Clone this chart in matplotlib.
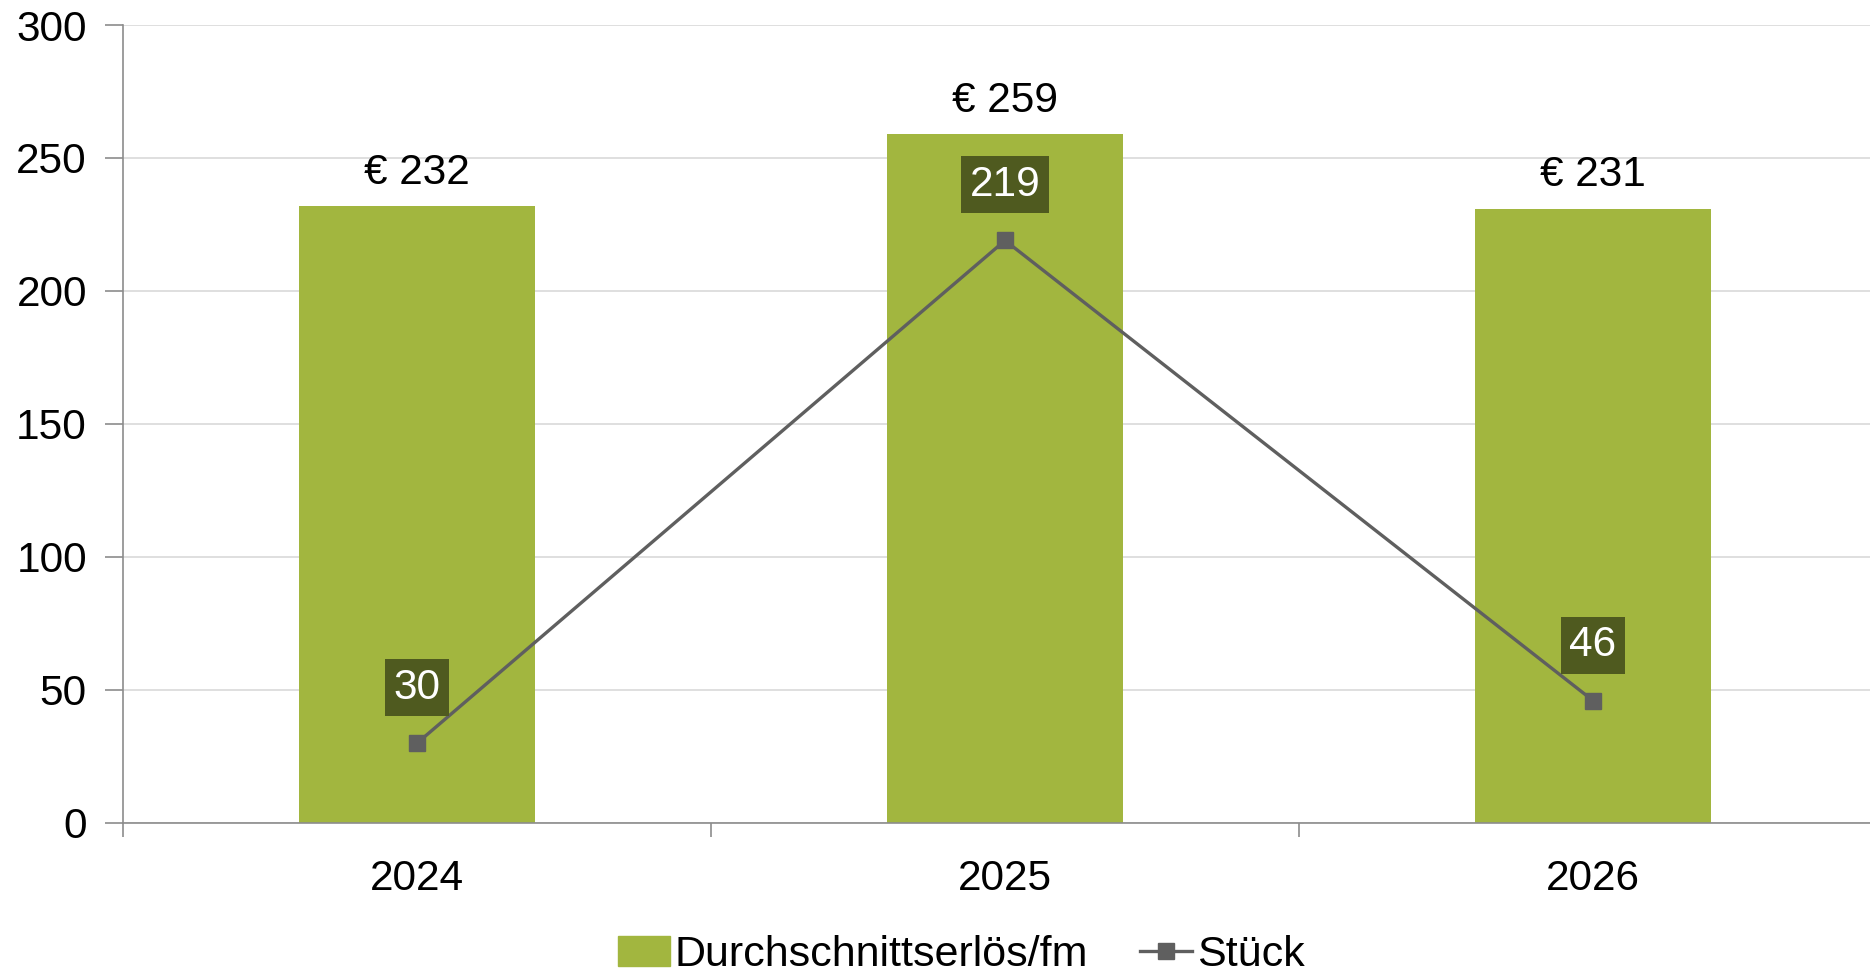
import matplotlib.pyplot as plt
from matplotlib.lines import Line2D
from matplotlib.patches import Patch

years = ["2024", "2025", "2026"]
erloes = [232, 259, 231]
stueck = [30, 219, 46]

bar_color = "#A2B63F"
line_color = "#5F5F5F"
box_color = "#4F5A1F"
axis_color = "#8C8C8C"

plt.rcParams["font.family"] = ["Liberation Sans", "DejaVu Sans"]

fig = plt.figure(figsize=(18.7, 9.73), dpi=100)
ax = fig.add_axes([0.0658, 0.1542, 0.9433, 0.8201])

x = list(range(len(years)))
ax.bar(x, erloes, width=0.4, color=bar_color, zorder=2)
ax.plot(x, stueck, color=line_color, linewidth=2.4, marker="s", markersize=11.5,
        zorder=3)

for xi, v in zip(x, erloes):
    ax.annotate("€ " + str(v), (xi, v), xytext=(0, 24), textcoords="offset points",
                ha="center", va="center", fontsize=30.5, color="black")

for xi, v in zip(x, stueck):
    ax.annotate(str(v), (xi, v), xytext=(0, 40), textcoords="offset points",
                ha="center", va="center", fontsize=30.5, color="white", zorder=4,
                bbox=dict(boxstyle="square,pad=0.2", fc=box_color, ec="none"))

ax.set_xlim(-0.5, 2.5)
ax.set_ylim(0, 300)
ax.set_yticks(range(0, 301, 50))
ax.yaxis.grid(True, color="#D9D9D9", linewidth=1.2, zorder=0)
ax.set_axisbelow(True)

ax.set_xticks([-0.5, 0.5, 1.5, 2.5])
ax.set_xticklabels([])
ax.set_xticks(x, minor=True)
ax.set_xticklabels(years, minor=True)
ax.tick_params(axis="x", which="major", length=10, color=axis_color, width=1.2)
ax.tick_params(axis="x", which="minor", length=0, pad=26, labelsize=30.5)
ax.tick_params(axis="y", length=13, color=axis_color, width=1.2, labelsize=30.5, pad=13)

for s in ["top", "right"]:
    ax.spines[s].set_visible(False)
for s in ["left", "bottom"]:
    ax.spines[s].set_color(axis_color)
    ax.spines[s].set_linewidth(1.2)

handles = [Patch(color=bar_color, label="Durchschnittserlös/fm"),
           Line2D([], [], color=line_color, linewidth=2.4, marker="s", markersize=11.5,
                  label="Stück")]
fig.legend(handles=handles, loc="center", bbox_to_anchor=(0.514, 0.018),
           ncol=2, frameon=False, fontsize=31, handlelength=1.2, handletextpad=0.12,
           columnspacing=1.2, borderaxespad=0)

fig.savefig("out.png", dpi=100)
